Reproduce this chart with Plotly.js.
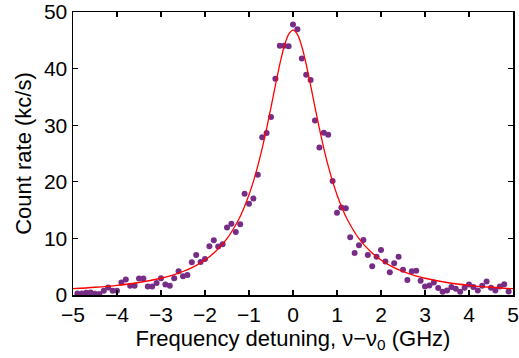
<!DOCTYPE html>
<html>
<head>
<meta charset="utf-8">
<script src="https://cdn.plot.ly/plotly-3.0.1.min.js"></script>
<style>html,body{margin:0;padding:0;background:#fff;}#chart{width:519px;height:358px;}</style>
</head>
<body>
<div id="chart"></div>
<script>
// Measured detuning (GHz)
const detuning = [
-4.9,-4.8,-4.7,-4.6,-4.5,-4.4,-4.3,-4.2,-4.1,-4.0,
-3.9,-3.8,-3.7,-3.6,-3.5,-3.4,-3.3,-3.2,-3.1,-3.0,
-2.9,-2.8,-2.7,-2.6,-2.5,-2.4,-2.3,-2.2,-2.1,-2.0,
-1.9,-1.8,-1.7,-1.6,-1.5,-1.4,-1.3,-1.2,-1.1,-1.0,
-0.9,-0.8,-0.7,-0.6,-0.5,-0.4,-0.3,-0.2,-0.1,0.0,
0.1,0.2,0.3,0.4,0.5,0.6,0.7,0.8,0.9,1.0,
1.1,1.2,1.3,1.4,1.5,1.6,1.7,1.8,1.9,2.0,
2.1,2.2,2.3,2.4,2.5,2.6,2.7,2.8,2.9,3.0,
3.1,3.2,3.3,3.4,3.5,3.6,3.7,3.8,3.9,4.0,
4.1,4.2,4.3,4.4,4.5,4.6,4.7,4.8,4.9
];
// Measured count rate (kc/s)
const countRate = [
0.28,0.28,0.4,0.46,0.23,0.17,0.75,1.33,0.75,0.75,
2.2,2.73,1.63,1.63,2.9,2.9,1.5,1.5,2.1,2.97,
1.85,1.63,2.97,4.2,3.3,3.55,5.77,7.05,5.82,6.35,
8.6,9.67,8.57,8.97,11.94,12.59,11.12,12.52,17.88,16.14,
17.06,21.26,27.85,28.6,31.47,38.22,44.05,44.05,43.93,47.78,
46.96,41.78,38.92,37.99,30.82,26.05,28.67,28.32,20.16,14.51,
15.44,15.31,10.2,7.4,8.79,9.72,7.05,5.07,6.75,7.97,
5.94,4.02,5.59,6.75,4.48,2.67,4.2,4.3,2.5,1.5,
1.68,2.2,1.22,0.58,0.8,1.4,1.1,0.58,1.28,1.85,
1.4,0.8,1.63,2.38,1.28,0.8,1.5,1.92,0.63
];
// Fitted curve
const fitX = [-5,-4.5,-4,-3.5,-3,-2.75,-2.5,-2.25,-2,-1.75,-1.5,-1.25,-1.1,-1,-0.9,-0.8,-0.75,-0.7,-0.6,-0.5,-0.4,-0.3,-0.25,-0.2,-0.1,0,
0.1,0.2,0.25,0.3,0.4,0.5,0.6,0.7,0.75,0.8,0.9,1,1.1,1.25,1.5,1.75,2,2.25,2.5,2.75,3,3.5,4,4.5,5];
const fitY = [1.11,1.37,1.71,2.21,2.96,3.48,4.15,5.02,6.18,7.76,9.96,13.12,15.66,17.70,20.07,22.81,24.32,25.92,29.40,33.17,37.05,40.77,42.44,43.91,46.04,46.8,
46.04,43.91,42.44,40.77,37.05,33.17,29.40,25.92,24.32,22.81,20.07,17.70,15.66,13.12,9.96,7.76,6.18,5.02,4.15,3.48,2.96,2.21,1.71,1.37,1.11];

const xTicks = [-5,-4,-3,-2,-1,0,1,2,3,4,5];
const yTicks = [0,10,20,30,40,50];

const family = '"Liberation Sans", Arial, Helvetica, sans-serif';
const tickFont = {family: family, size: 21, color: '#000'};
const titleFont = {family: family, size: 22, color: '#000'};

const traces = [
  {x: detuning, y: countRate, type: 'scatter', mode: 'markers',
   marker: {color: '#772d86', size: 6}, hoverinfo: 'none', cliponaxis: false},
  {x: fitX, y: fitY, type: 'scatter', mode: 'lines',
   line: {color: '#ff0000', width: 1.3, shape: 'spline'}, hoverinfo: 'none'}
];

const axisBase = {
  showline: true, linecolor: '#000', linewidth: 1.5, mirror: 'ticks',
  ticks: 'inside', ticklen: 5, tickwidth: 1.2, tickcolor: '#000',
  showgrid: false, zeroline: false, tickfont: tickFont, fixedrange: true,
  ticklabeloverflow: 'allow'
};

const layout = {
  width: 519, height: 358,
  margin: {l: 73, r: 6, t: 12, b: 63},
  paper_bgcolor: '#fff', plot_bgcolor: '#fff',
  showlegend: false,
  font: tickFont,
  xaxis: Object.assign({}, axisBase, {
    range: [-5, 5], tickvals: xTicks, ticktext: xTicks.map(String).map(s => s.replace('-', '\u2212')),
    title: {text: 'Frequency detuning, \u03bd\u2212\u03bd<sub>0</sub> (GHz)', font: titleFont, standoff: 2}
  }),
  yaxis: Object.assign({}, axisBase, {
    range: [0, 50], tickvals: yTicks, ticktext: yTicks.map(String),
    title: {text: 'Count rate (kc/s)', font: titleFont, standoff: 6}
  })
};

Plotly.newPlot('chart', traces, layout, {displayModeBar: false, staticPlot: true});
</script>
</body>
</html>
